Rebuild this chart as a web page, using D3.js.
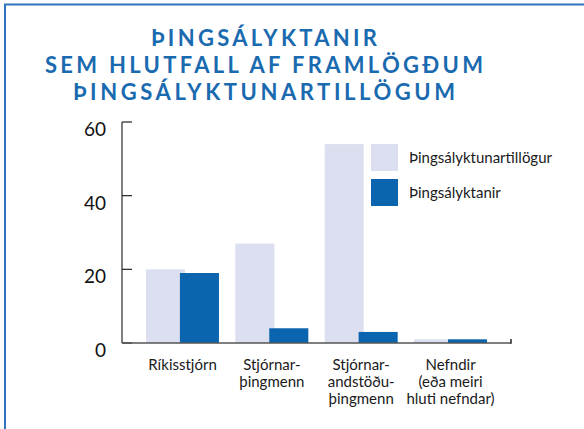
<!DOCTYPE html>
<html>
<head>
<meta charset="utf-8">
<script src="https://cdn.jsdelivr.net/npm/d3@7"></script>
<style>
  body { margin: 0; background: #fff; }
  svg { display: block; }
</style>
</head>
<body>
<div id="chart"></div>
<script>
// data
const categories = ["Ríkisstjórn", "Stjórnarþingmenn", "Stjórnarandstöðuþingmenn", "Nefndir"];
const categoryLines = [
  ["Ríkisstjórn"],
  ["Stjórnar-", "þingmenn"],
  ["Stjórnar-", "andstöðu-", "þingmenn"],
  ["Nefndir", "(eða meiri", "hluti nefndar)"]
];
const seriesNames = ["Þingsályktunartillögur", "Þingsályktanir"];
const tillogur = [20, 27, 54, 1];
const alyktanir = [19, 4, 3, 1];
const yTicks = [0, 20, 40, 60];
const titleLines = ["ÞINGSÁLYKTANIR", "SEM HLUTFALL AF FRAMLÖGÐUM", "ÞINGSÁLYKTUNARTILLÖGUM"];

const W = 584, H = 429;
const colors = ["#dcdff0", "#0b64ae"];
const labelFont = "Lato, 'Open Sans', sans-serif";

const svg = d3.select("#chart").append("svg")
  .attr("width", W).attr("height", H);

// frame (top and left rule)
svg.append("path")
  .attr("d", `M5,${H} L5,4.5 L${W},4.5`)
  .attr("fill", "none")
  .attr("stroke", "#2f74bd")
  .attr("stroke-width", 2);

// title
const titleWidths = [226, 438, 382];
svg.append("g").selectAll("text")
  .data(titleLines)
  .join("text")
  .attr("x", 264)
  .attr("y", (d, i) => 46 + i * 27)
  .attr("text-anchor", "middle")
  .attr("textLength", (d, i) => titleWidths[i])
  .attr("lengthAdjust", "spacing")
  .style("font-family", "Lato, 'Open Sans', sans-serif")
  .style("font-weight", "bold")
  .style("font-size", "22px")
  .style("fill", "#1a6ab0")
  .text(d => d);

// scales
const y = d3.scaleLinear().domain([0, 60]).range([343, 122]);
const x = d3.scaleBand().domain(categories)
  .range([137.8, 495.2])
  .paddingInner(0.183)
  .paddingOuter(0.0915);
const barW = x.bandwidth() * 0.535;
const offset = d3.scaleOrdinal().domain(seriesNames).range([0, x.bandwidth() - barW]);

// bars
const rows = categories.map((c, i) => [
  { cat: c, s: seriesNames[0], v: tillogur[i] },
  { cat: c, s: seriesNames[1], v: alyktanir[i] }
]);
svg.append("g").selectAll("g")
  .data(rows)
  .join("g")
  .selectAll("rect")
  .data(d => d)
  .join("rect")
  .attr("x", d => x(d.cat) + offset(d.s))
  .attr("y", d => y(d.v))
  .attr("width", barW)
  .attr("height", d => y(0) - y(d.v))
  .attr("fill", (d, i) => colors[i]);

// y axis
const yAxis = svg.append("g").attr("transform", "translate(122,0)");
yAxis.append("line")
  .attr("x1", 0).attr("x2", 0)
  .attr("y1", y(60)).attr("y2", y(0))
  .attr("stroke", "#555").attr("stroke-width", 1.5);
yAxis.selectAll(".tick")
  .data(yTicks)
  .join("line")
  .attr("x1", 0).attr("x2", 10)
  .attr("y1", d => y(d)).attr("y2", d => y(d))
  .attr("stroke", "#222").attr("stroke-width", 1.2);
yAxis.selectAll(".lbl")
  .data(yTicks)
  .join("text")
  .attr("x", -16)
  .attr("y", d => y(d) + 14)
  .attr("text-anchor", "end")
  .style("font-family", labelFont)
  .style("font-size", "19px")
  .style("fill", "#111")
  .text(d => d);

// x axis baseline
svg.append("line")
  .attr("x1", 122).attr("x2", 511)
  .attr("y1", y(0)).attr("y2", y(0))
  .attr("stroke", "#555").attr("stroke-width", 1.5);
svg.append("line")
  .attr("x1", 511).attr("x2", 511)
  .attr("y1", y(0) + 0.7).attr("y2", y(0) - 4)
  .attr("stroke", "#222").attr("stroke-width", 1.5);

// category labels
const catLabels = svg.append("g").selectAll("text")
  .data(categories)
  .join("text")
  .attr("text-anchor", "middle")
  .style("font-family", labelFont)
  .style("font-size", "15px")
  .style("fill", "#1a1a1a");
catLabels.selectAll("tspan")
  .data((d, i) => categoryLines[i].map(t => ({ t, c: d })))
  .join("tspan")
  .attr("x", d => x(d.c) + x.bandwidth() / 2)
  .attr("y", (d, j) => 370 + j * 17)
  .text(d => d.t);

// legend
const legend = svg.append("g").selectAll("g")
  .data(seriesNames)
  .join("g")
  .attr("transform", (d, i) => `translate(371,${144 + i * 35})`);
legend.append("rect")
  .attr("width", 27).attr("height", 27)
  .attr("fill", (d, i) => colors[i]);
legend.append("text")
  .attr("x", 38).attr("y", 19)
  .style("font-family", labelFont)
  .style("font-size", "15px")
  .style("fill", "#1a1a1a")
  .text(d => d);
</script>
</body>
</html>
